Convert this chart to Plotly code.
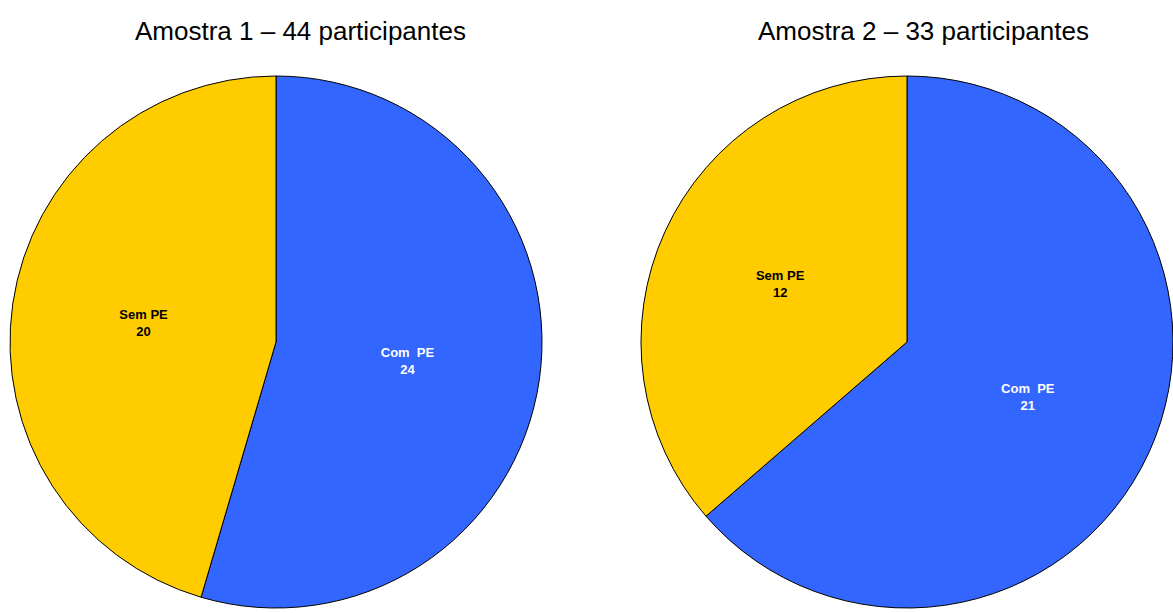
import plotly.graph_objects as go

labels = ["Com\u00a0 PE", "Sem PE"]
amostra1 = [24, 20]
amostra2 = [21, 12]
titles = ["Amostra 1 \u2013 44 participantes", "Amostra 2 \u2013 33 participantes"]
colors = ["#3366FF", "#FFCC00"]
text_colors = ["white", "black"]

W, H = 1173, 613
fig = go.Figure()

domains = [
    dict(x=[10 / W, 542 / W], y=[5 / H, 537 / H]),
    dict(x=[641 / W, 1.0], y=[5 / H, 537 / H]),
]

for vals, dom in zip([amostra1, amostra2], domains):
    fig.add_trace(go.Pie(
        labels=labels, values=vals, sort=False, direction="clockwise", rotation=0,
        domain=dom,
        marker=dict(colors=colors, line=dict(color="black", width=1)),
        texttemplate="<b>%{label}</b><br><b>%{value}</b>",
        textposition="inside", insidetextorientation="horizontal",
        textfont=dict(family="Liberation Sans, Arial", size=13, color=text_colors),
        hoverinfo="label+value", showlegend=False,
    ))

for t, xc in zip(titles, [300 / W, 923 / W]):
    fig.add_annotation(text=t, x=xc, y=1 - 31 / H, xref="paper", yref="paper",
                       xanchor="center", yanchor="middle", showarrow=False,
                       font=dict(family="Liberation Sans, Arial", size=26, color="black"))

fig.update_layout(width=W, height=H, margin=dict(l=0, r=0, t=0, b=0),
                  paper_bgcolor="white", plot_bgcolor="white")
fig.write_html("out.html")
